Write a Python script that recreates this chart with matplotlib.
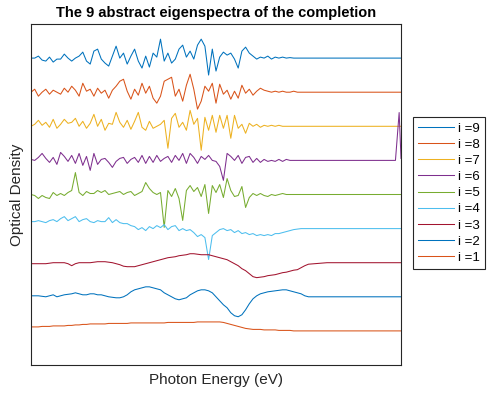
import numpy as np
import matplotlib.pyplot as plt

plt.rcParams['font.family'] = ['Liberation Sans', 'DejaVu Sans']

# photon energy grid (arbitrary units, no ticks shown)
energy = list(range(76)) + [80, 90, 98.5, 99.5, 100]

# abstract eigenspectra (arbitrary units)
spec9 = [0, 0, 2, -2, -3, 1, -4, -1, -1, 4,
         0, -3, 0, 2, 6, -3, -6, 7, 9, -1,
         -5, -8, 2, 12, 0, 5, -6, 2, 9, -3,
         -10, 2, -9, 5, 1, 19, -3, 5, -5, -1,
         9, 13, 1, 7, -1, 13, 19, 12, -17, 9,
         -13, 1, 6, 3, 5, -1, -10, 7, 11, 5,
         2, -1, 1, 0, 2, -1, 1, 0, 1, 0,
         0.5, 0, 0, 0, 0, 0,
         0, 0, 0, 0, 0]
spec8 = [0, 3, -4, 0, 3, -2, 2, 0, -2, 4,
         0, 6, 2, -4, 9, 1, 3, -4, 4, -1,
         2, -6, 2, 6, 11, 13, 1, -7, 3, -3,
         9, -1, 6, -6, -11, -4, 11, 13, 15, -4,
         3, -9, 7, 18, 3, -17, -9, 6, 1, 9,
         -11, 8, -2, 2, -7, 1, -6, 7, -1, 3,
         -3, 1, 4, 2, 1, 0, 1, 0, 1, 0,
         0, 1, 0, 0, 0, 0,
         0, 0, 0, 0, 0]
spec7 = [0, 2, 6, 1, 4, -1, 7, -2, 2, 7,
         3, 4, 8, 0, 5, -2, 3, 12, 0, 7,
         -4, 3, 2, 14, 4, -1, 6, -3, 5, 14,
         -1, -4, 5, -2, 0, 2, 6, -22, 8, 13,
         -1, 4, -4, 16, 2, 8, -24, 9, -4, 11,
         -6, 11, -2, 11, -12, 11, -2, 2, -7, 3,
         0, 2, -1, 1, 0, 1, 0, 1, 0, 0,
         0, 0, 0, 0, 0, 0,
         0, 0, 0, 0, 0]
spec6 = [1, 0, 3, 7, 2, -2, 3, -4, 8, 4,
         -1, 5, -3, 7, -5, 4, -10, 7, -4, 1,
         2, -2, -7, -1, 2, 3, -3, 1, 3, -2,
         5, -3, 4, -2, 5, -1, 2, 4, -2, 5,
         0, 7, -3, 7, 3, -3, 4, 1, 5, 0,
         -1, -6, -20, 7, 4, 0, 5, -3, 3, 4,
         -2, 2, -2, 1, -1, 0, -1, 1, -1, 1,
         0, 0, 0, 0, 0, 0,
         0, 0, 0, 48, 2]
spec5 = [0, -1, -4, -1, -3, -4, 2, -1, 1, -1,
         2, 4, 22, 2, -1, 3, 1, 1, 4, 2,
         4, 0, 1, 2, 3, 0, 2, 3, -1, 1,
         3, 12, 6, 2, 0, 2, -33, 4, -2, 6,
         -4, -26, 4, 9, 3, 7, -2, 10, -19, 9,
         2, 10, -3, 16, 4, -2, -1, 8, -13, -3,
         1, -1, 1, -1, -2, 0, -1, 0, 1, 0,
         0, 0, 0, 0, 0, 0,
         0, 0, 0, 0, 0]
spec4 = [7, 7, 8, 7, 6, 8, 9, 7, 10, 12,
         8, 10, 12, 7, 9, 10, 7, 6, 8, 7,
         7, 11, 6, 9, 6, 5, 5, 3, 2, -1,
         1, -2, 2, 0, 3, 1, 4, -1, 2, 3,
         -2, 0, -2, -1, -4, -8, -6, -9, -31, -7,
         -4, -1, 0, -2, -1, -4, -2, -5, -4, -6,
         -5, -7, -6, -7, -6, -7, -5, -5, -4, -3,
         -2, -1, -0.5, 0, 0, 0,
         0, 0, 0, 0, 0]
spec3 = [-1, -1, -1, -1, -1, -0.5, 0, 0, 0, 0,
         -1, -3, -1, 0, 0, 0, 0, 0.5, 1, 1,
         1, 0.5, 0, -1, -2, -3.5, -4, -4, -4, -3,
         -2, -1, 0, 1, 2, 3, 4, 5, 5.5, 6,
         7, 7.5, 8, 9, 9, 8.5, 8, 8, 8, 7,
         6, 5, 4, 3, 1, -1, -3, -6, -8, -11,
         -14, -15, -14.5, -14, -13, -12.5, -12, -11, -10, -9.5,
         -8.5, -7.5, -7, -5, -3, -1.5,
         0, 0, 0, 0, 0]
spec2 = [1, 1, 1, 0.5, 0, 1, 2, 0, 1, 2,
         2.5, 3, 4, 3, 2, 2, 3, 3, 2, 2,
         1, 0, -0.5, -1, -1, 0, 2, 5, 7, 8,
         9, 10, 10, 9, 8, 7, 4, 2, 0, -2,
         -3, -2, -1, 2, 4, 6, 7, 7, 6, 4,
         0, -4, -8, -11, -16, -19, -20, -18, -13, -7,
         -2, 1, 3, 4, 5, 5.5, 6, 6.5, 7, 7,
         6, 5, 4, 3, 1, 0,
         0, 0, 0, 0, 0]
spec1 = [4, 4, 4, 4.5, 4.5, 4.5, 5, 5, 5, 5,
         5.5, 5.5, 6, 6, 6.5, 6.5, 7, 7, 7, 7,
         7, 7.5, 7.5, 7.5, 7.5, 7.5, 7.5, 8, 8, 8,
         8, 8, 8, 8, 8, 8, 8, 8.5, 8.5, 8.5,
         8.5, 8.5, 8.5, 8.5, 8.5, 9, 9, 9, 9, 9,
         9, 9, 8.5, 7.5, 6.5, 5.5, 4.5, 3.5, 2.5, 2,
         1.5, 1.5, 1.5, 1, 1, 1, 1, 0.5, 0.5, 0.5,
         0.5, 0, 0, 0, 0, 0,
         0, 0, 0, 0, 0]

spectra = [spec9, spec8, spec7, spec6, spec5, spec4, spec3, spec2, spec1]
index = [9, 8, 7, 6, 5, 4, 3, 2, 1]
colors = ['#0072BD', '#D95319', '#EDB120', '#7E2F8E', '#77AC30',
          '#4DBEEE', '#A2142F', '#0072BD', '#D95319']
spacing = 34.2

fig = plt.figure(figsize=(4.93, 3.93), dpi=100)
ax = fig.add_axes([31 / 493, 28 / 393, 370 / 493, 341 / 393])

for s, i, c in zip(spectra, index, colors):
    ax.plot(energy, np.array(s) + i * spacing, color=c, lw=0.75, label='i =%d' % i)

ax.set_xlim(0, 100)
ax.set_ylim(0, 342)
ax.set_xticks([])
ax.set_yticks([])
for sp in ax.spines.values():
    sp.set_color('#262626')
    sp.set_linewidth(0.8)

ax.set_title('The 9 abstract eigenspectra of the completion',
             fontsize=10.5, fontweight='bold', pad=5)
ax.set_xlabel('Photon Energy (eV)', fontsize=11, labelpad=6, color='#262626')
ax.set_ylabel('Optical Density', fontsize=11, labelpad=5, color='#262626')

leg = ax.legend(loc='upper left', bbox_to_anchor=(413 / 493, 276 / 393),
                bbox_transform=fig.transFigure, borderaxespad=0, fontsize=9.5,
                handlelength=2.7, handletextpad=0.3, labelspacing=0.3,
                borderpad=0.4, fancybox=False, framealpha=1)
leg.get_frame().set_edgecolor('#262626')
leg.get_frame().set_linewidth(0.8)

fig.savefig('out.png', dpi=100)
